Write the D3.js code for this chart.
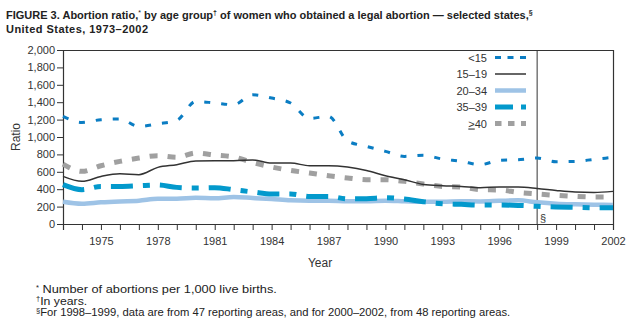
<!DOCTYPE html>
<html><head><meta charset="utf-8">
<script src="https://cdn.jsdelivr.net/npm/d3@7"></script>
<style>
body{margin:0;background:#fff;}
svg{display:block;font-family:"Liberation Sans",Arial,sans-serif;}
</style></head>
<body><svg id="c" width="642" height="330"></svg>
<script>
const years = d3.range(1973, 2003);
const under15 = [1237,1168,1199,1207,1122,1153,1191,1409,1391,1371,1486,1448,1391,1214,1237,955,892,835,777,789,747,720,682,731,739,758,716,720,743,766];
const age15_19 = [547,490,547,578,567,651,682,724,728,728,736,701,701,670,670,655,616,555,509,455,440,432,417,425,425,409,386,368,363,375];
const age20_34 = [256,233,249,260,268,291,291,302,295,310,299,287,272,268,268,262,262,268,262,256,255,262,260,266,272,249,233,226,222,218];
const age35_39 = [452,394,432,432,440,448,421,414,418,394,368,345,345,317,317,290,291,302,287,256,233,226,218,218,214,203,195,191,187,187];
const age40plus = [689,605,670,720,758,785,766,816,793,770,708,655,616,586,555,529,509,509,490,460,432,425,394,391,363,345,329,317,310,310];
const yTicks = [0,200,400,600,800,1000,1200,1400,1600,1800,2000];
const xTickLabels = [1975,1978,1981,1984,1987,1990,1993,1996,1999,2002];
const legendLabels = ["<15","15\u201319","20\u201334","35\u201339","\u226540"];

const svg = d3.select("#c");
const x = d3.scaleLinear().domain([1973,2002]).range([63,613]);
const y = d3.scaleLinear().domain([0,2000]).range([224,50]);

// title
const t = svg.append("text").attr("x",6).attr("y",19).attr("font-size",11).attr("font-weight","bold").attr("fill","#222");
t.append("tspan").text("FIGURE 3. Abortion ratio,");
t.append("tspan").attr("font-size",7).attr("dy",-4).attr("font-weight","normal").text("*");
t.append("tspan").attr("dy",4).text(" by age group");
t.append("tspan").attr("font-size",7).attr("dy",-4).text("\u2020");
t.append("tspan").attr("dy",4).text(" of women who obtained a legal abortion \u2014 selected states,");
t.append("tspan").attr("font-size",7).attr("dy",-4).text("\u00a7");
svg.append("text").attr("x",6).attr("y",33).attr("font-size",11).attr("font-weight","bold").attr("fill","#222")
  .attr("textLength",142).attr("lengthAdjust","spacing").text("United  States, 1973\u20132002");

// frame
svg.append("line").attr("x1",63).attr("x2",613).attr("y1",50.5).attr("y2",50.5).attr("stroke","#333").attr("stroke-width",1.2);
svg.append("line").attr("x1",613.5).attr("x2",613.5).attr("y1",50).attr("y2",224).attr("stroke","#333").attr("stroke-width",1.2);
svg.append("line").attr("x1",x(1998)).attr("x2",x(1998)).attr("y1",50).attr("y2",224).attr("stroke","#333").attr("stroke-width",1);

// axes
const ya = svg.append("g").attr("transform","translate(63,0)")
  .call(d3.axisLeft(y).tickValues(yTicks).tickSize(6).tickFormat(d3.format(",")));
ya.select(".domain").attr("stroke","#333").attr("stroke-width",1.2);
ya.selectAll(".tick line").attr("stroke","#333");
ya.selectAll("text").attr("font-size",11).attr("fill","#333").attr("font-family","Liberation Sans, Arial").attr("dx",1);

const xa = svg.append("g").attr("transform","translate(0,224)")
  .call(d3.axisBottom(x).tickValues(years).tickSize(6).tickFormat(d => xTickLabels.includes(d) ? d : ""));
xa.select(".domain").attr("stroke","#333").attr("stroke-width",1.2);
xa.selectAll(".tick line").attr("stroke","#333");
xa.selectAll("text").attr("font-size",11).attr("fill","#333").attr("font-family","Liberation Sans, Arial").attr("dy","1.1em");

svg.append("text").attr("transform","translate(20,137) rotate(-90)").attr("text-anchor","middle").attr("font-size",12).attr("fill","#333").text("Ratio");
svg.append("text").attr("x",320).attr("y",267).attr("text-anchor","middle").attr("font-size",12).attr("fill","#333").text("Year");
svg.append("text").attr("x",540).attr("y",222).attr("font-size",11).attr("fill","#333").text("\u00a7");

// series
const series = [
  {name:legendLabels[0], vals:under15, color:"#0b7dc3", w:3, dash:"6,11", ldash:"6,6.5"},
  {name:legendLabels[1], vals:age15_19, color:"#333", w:1.5, dash:null, ldash:null},
  {name:legendLabels[2], vals:age20_34, color:"#9ec3e6", w:4.5, dash:null, ldash:null},
  {name:legendLabels[3], vals:age35_39, color:"#0399cc", w:5, dash:"22,10,7,10", ldash:"18,8,5,8"},
  {name:legendLabels[4], vals:age40plus, color:"#a0a0a0", w:5, dash:"8,10", ldash:"6.5,6.5"}
];
const line = d3.line().x((d,i)=>x(years[i])).y(d=>y(d)).curve(d3.curveMonotoneX);
const order = [2,3,4,1,0];
order.forEach(k => {
  const s = series[k];
  svg.append("path").datum(s.vals).attr("d",line).attr("fill","none")
    .attr("stroke",s.color).attr("stroke-width",s.w).attr("stroke-dasharray",s.dash);
});

// legend
series.forEach((s,i) => {
  const ly = 57.5 + i*16.5;
  const tx = svg.append("text").attr("x",487).attr("y",ly+4).attr("text-anchor","end").attr("font-size",11).attr("fill","#333");
  if (i===4) {
    tx.append("tspan").attr("text-decoration","underline").text(">");
    tx.append("tspan").text("40");
  } else tx.text(s.name);
  svg.append("line").attr("x1",495).attr("x2",526).attr("y1",ly).attr("y2",ly)
    .attr("stroke",s.color).attr("stroke-width",s.w).attr("stroke-dasharray",s.ldash);
});

// footnotes
const fn = [["*"," Number of abortions per 1,000 live births.",238],["\u2020","In years.",47],["\u00a7","For 1998\u20131999, data are from 47 reporting areas, and for 2000\u20132002, from 48 reporting areas.",470]];
fn.forEach((f,i) => {
  const ft = svg.append("text").attr("x",36).attr("y",293+i*11.5).attr("font-size",10).attr("fill","#222");
  ft.append("tspan").attr("font-size",7.5).attr("dy",-3.5).text(f[0]);
  ft.append("tspan").attr("dy",3.5).attr("textLength",f[2]).attr("lengthAdjust","spacingAndGlyphs").text(f[1]);
});
</script></body></html>
